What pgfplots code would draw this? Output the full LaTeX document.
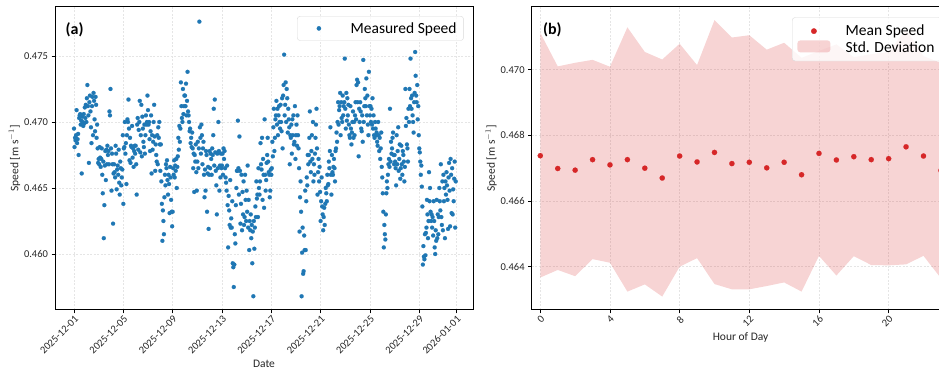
\documentclass[border=0pt]{standalone}
\usepackage{fontspec}
\setmainfont{Carlito}
\usepackage{pgfplots}
\pgfplotsset{compat=1.18}
\definecolor{tabblue}{HTML}{1F77B4}
\definecolor{tabred}{HTML}{D62728}
\pgfplotsset{
  common/.style={
    scale only axis, width=418pt, height=303pt,
    axis line style={line width=1pt},
    tick align=outside, tick pos=left, major tick length=3.5pt,
    tick style={black, line width=0.8pt},
    grid=major, major grid style={dash pattern=on 2pt off 1.5pt, black!10, line width=0.5pt},
    ticklabel style={font=\fontsize{10.5}{12}\selectfont, text=black!85},
    /pgf/number format/assume math mode=true,
    scaled y ticks=false,
    yticklabel style={/pgf/number format/fixed, /pgf/number format/fixed zerofill, /pgf/number format/precision=3},
    label style={font=\fontsize{11.5}{13}\selectfont, text=black!85},
    ylabel shift=-3pt,
    xticklabel style={rotate=45, anchor=north east, inner sep=1pt},
    legend cell align=left,
  }
}
\begin{document}
\begin{tikzpicture}
\path[use as bounding box] (0pt,0pt) rectangle (939pt,371pt);
% ---------------- (a) ----------------
\begin{axis}[common, at={(55pt,61pt)}, anchor=south west,
  xmin=-37, xmax=776.6, ymin=0.45576, ymax=0.47871,
  xtick={0,96,192,288,384,480,576,672,744},
  xticklabels={2025-12-01,2025-12-05,2025-12-09,2025-12-13,2025-12-17,2025-12-21,2025-12-25,2025-12-29,2026-01-01},
  ytick={0.460,0.465,0.470,0.475},
  xlabel={Date}, ylabel={Speed [m s$^{-1}$]},
  legend style={at={(0.978,0.970)}, anchor=north east, draw=black!15, rounded corners=3pt,
    fill=white, fill opacity=0.8, text opacity=1, draw opacity=1,
    font=\fontsize{15.5}{18}\selectfont, inner xsep=5pt, inner ysep=4pt},
]
\addplot[only marks, mark=*, mark size=2.05pt, color=tabblue, mark options={line width=0.1pt},
  legend image code/.code={\fill[opacity=0] (0pt,-1pt) rectangle (33pt,1pt); \fill[tabblue, opacity=1] (16.5pt,0pt) circle (2.05pt);}]
 table[row sep=\\] {
t y\\
0 0.4695\\1 0.4681\\2 0.4688\\3 0.4686\\4 0.4690\\5 0.4709\\6 0.4684\\7 0.4687\\8 0.4691\\9 0.4675\\10 0.4703\\11 0.4705\\12 0.4706\\13 0.4698\\14 0.4701\\15 0.4661\\16 0.4704\\17 0.4700\\18 0.4697\\19 0.4706\\20 0.4699\\21 0.4711\\22 0.4703\\23 0.4713\\
24 0.4700\\25 0.4718\\26 0.4728\\27 0.4712\\28 0.4705\\29 0.4669\\30 0.4715\\31 0.4720\\32 0.4708\\33 0.4696\\34 0.4684\\35 0.4712\\36 0.4719\\37 0.4690\\38 0.4722\\39 0.4716\\40 0.4702\\41 0.4693\\42 0.4719\\43 0.4713\\44 0.4688\\45 0.4698\\46 0.4680\\47 0.4669\\
48 0.4672\\49 0.4668\\50 0.4681\\51 0.4673\\52 0.4666\\53 0.4672\\54 0.4680\\55 0.4660\\56 0.4646\\57 0.4670\\58 0.4612\\59 0.4637\\60 0.4667\\61 0.4678\\62 0.4656\\63 0.4679\\64 0.4668\\65 0.4682\\66 0.4675\\67 0.4678\\68 0.4668\\69 0.4708\\70 0.4705\\71 0.4725\\
72 0.4680\\73 0.4648\\74 0.4676\\75 0.4668\\76 0.4623\\77 0.4661\\78 0.4668\\79 0.4662\\80 0.4658\\81 0.4682\\82 0.4676\\83 0.4649\\84 0.4664\\85 0.4667\\86 0.4660\\87 0.4679\\88 0.4654\\89 0.4645\\90 0.4670\\91 0.4665\\92 0.4652\\93 0.4658\\94 0.4664\\95 0.4690\\
96 0.4638\\97 0.4680\\98 0.4681\\99 0.4700\\100 0.4676\\101 0.4684\\102 0.4653\\103 0.4690\\104 0.4702\\105 0.4700\\106 0.4717\\107 0.4695\\108 0.4671\\109 0.4688\\110 0.4669\\111 0.4682\\112 0.4681\\113 0.4697\\114 0.4673\\115 0.4680\\116 0.4666\\117 0.4678\\118 0.4682\\119 0.4676\\
120 0.4682\\121 0.4668\\122 0.4645\\123 0.4698\\124 0.4703\\125 0.4679\\126 0.4694\\127 0.4700\\128 0.4716\\129 0.4677\\130 0.4690\\131 0.4713\\132 0.4674\\133 0.4704\\134 0.4695\\135 0.4685\\136 0.4681\\137 0.4698\\138 0.4676\\139 0.4690\\140 0.4705\\141 0.4698\\142 0.4700\\143 0.4720\\
144 0.4709\\145 0.4698\\146 0.4700\\147 0.4687\\148 0.4678\\149 0.4693\\150 0.4705\\151 0.4661\\152 0.4690\\153 0.4679\\154 0.4685\\155 0.4700\\156 0.4713\\157 0.4689\\158 0.4663\\159 0.4683\\160 0.4675\\161 0.4670\\162 0.4690\\163 0.4668\\164 0.4696\\165 0.4688\\166 0.4700\\167 0.4683\\
168 0.4663\\169 0.4683\\170 0.4655\\171 0.4638\\172 0.4610\\173 0.4633\\174 0.4625\\175 0.4615\\176 0.4643\\177 0.4660\\178 0.4652\\179 0.4668\\180 0.4665\\181 0.4671\\182 0.4656\\183 0.4645\\184 0.4660\\185 0.4653\\186 0.4631\\187 0.4666\\188 0.4658\\189 0.4641\\190 0.4632\\191 0.4621\\
192 0.4632\\193 0.4665\\194 0.4660\\195 0.4671\\196 0.4658\\197 0.4667\\198 0.4663\\199 0.4672\\200 0.4650\\201 0.4666\\202 0.4674\\203 0.4688\\204 0.4679\\205 0.4697\\206 0.4685\\207 0.4695\\208 0.4730\\209 0.4712\\210 0.4703\\211 0.4700\\212 0.4725\\213 0.4706\\214 0.4712\\215 0.4720\\
216 0.4720\\217 0.4712\\218 0.4729\\219 0.4705\\220 0.4716\\221 0.4738\\222 0.4708\\223 0.4705\\224 0.4700\\225 0.4693\\226 0.4695\\227 0.4684\\228 0.4688\\229 0.4681\\230 0.4692\\231 0.4680\\232 0.4665\\233 0.4676\\234 0.4647\\235 0.4675\\236 0.4670\\237 0.4683\\238 0.4662\\239 0.4648\\
240 0.4670\\241 0.4685\\242 0.4665\\243 0.4680\\244 0.4776\\245 0.4696\\246 0.4688\\247 0.4676\\248 0.4698\\249 0.4690\\250 0.4668\\251 0.4680\\252 0.4685\\253 0.4660\\254 0.4643\\255 0.4664\\256 0.4648\\257 0.4678\\258 0.4675\\259 0.4632\\260 0.4661\\261 0.4666\\262 0.4619\\263 0.4660\\
264 0.4678\\265 0.4665\\266 0.4676\\267 0.4672\\268 0.4660\\269 0.4680\\270 0.4675\\271 0.4690\\272 0.4710\\273 0.4667\\274 0.4717\\275 0.4677\\276 0.4663\\277 0.4652\\278 0.4630\\279 0.4676\\280 0.4665\\281 0.4700\\282 0.4678\\283 0.4648\\284 0.4667\\285 0.4658\\286 0.4676\\287 0.4665\\
288 0.4667\\289 0.4676\\290 0.4660\\291 0.4680\\292 0.4672\\293 0.4678\\294 0.4665\\295 0.4658\\296 0.4654\\297 0.4648\\298 0.4667\\299 0.4637\\300 0.4605\\301 0.4644\\302 0.4633\\303 0.4622\\304 0.4656\\305 0.4620\\306 0.4627\\307 0.4620\\308 0.4640\\309 0.4593\\310 0.4590\\311 0.4575\\
312 0.4592\\313 0.4615\\314 0.4608\\315 0.4637\\316 0.4650\\317 0.4663\\318 0.4663\\319 0.4701\\320 0.4665\\321 0.4645\\322 0.4689\\323 0.4663\\324 0.4623\\325 0.4638\\326 0.4660\\327 0.4618\\328 0.4647\\329 0.4630\\330 0.4655\\331 0.4622\\332 0.4628\\333 0.4660\\334 0.4641\\335 0.4625\\
336 0.4648\\337 0.4632\\338 0.4667\\339 0.4620\\340 0.4641\\341 0.4603\\342 0.4625\\343 0.4618\\344 0.4630\\345 0.4612\\346 0.4622\\347 0.4593\\348 0.4617\\349 0.4568\\350 0.4625\\351 0.4604\\352 0.4620\\353 0.4636\\354 0.4628\\355 0.4655\\356 0.4642\\357 0.4645\\358 0.4628\\359 0.4665\\
360 0.4650\\361 0.4645\\362 0.4655\\363 0.4684\\364 0.4668\\365 0.4664\\366 0.4688\\367 0.4641\\368 0.4672\\369 0.4660\\370 0.4635\\371 0.4702\\372 0.4660\\373 0.4648\\374 0.4656\\375 0.4669\\376 0.4675\\377 0.4688\\378 0.4670\\379 0.4662\\380 0.4660\\381 0.4643\\382 0.4648\\383 0.4664\\
384 0.4660\\385 0.4665\\386 0.4685\\387 0.4674\\388 0.4696\\389 0.4710\\390 0.4678\\391 0.4688\\392 0.4702\\393 0.4705\\394 0.4716\\395 0.4698\\396 0.4710\\397 0.4690\\398 0.4705\\399 0.4712\\400 0.4700\\401 0.4695\\402 0.4713\\403 0.4700\\404 0.4693\\405 0.4718\\406 0.4680\\407 0.4720\\
408 0.4728\\409 0.4751\\410 0.4705\\411 0.4713\\412 0.4730\\413 0.4700\\414 0.4725\\415 0.4718\\416 0.4692\\417 0.4710\\418 0.4702\\419 0.4696\\420 0.4668\\421 0.4690\\422 0.4688\\423 0.4698\\424 0.4676\\425 0.4702\\426 0.4690\\427 0.4705\\428 0.4683\\429 0.4685\\430 0.4712\\431 0.4672\\
432 0.4690\\433 0.4698\\434 0.4682\\435 0.4705\\436 0.4690\\437 0.4680\\438 0.4665\\439 0.4617\\440 0.4643\\441 0.4655\\442 0.4632\\443 0.4568\\444 0.4601\\445 0.4620\\446 0.4585\\447 0.4587\\448 0.4614\\449 0.4603\\450 0.4648\\451 0.4603\\452 0.4640\\453 0.4658\\454 0.4652\\455 0.4675\\
456 0.4668\\457 0.4675\\458 0.4688\\459 0.4708\\460 0.4670\\461 0.4662\\462 0.4678\\463 0.4690\\464 0.4672\\465 0.4700\\466 0.4655\\467 0.4668\\468 0.4660\\469 0.4676\\470 0.4688\\471 0.4698\\472 0.4710\\473 0.4680\\474 0.4645\\475 0.4662\\476 0.4672\\477 0.4655\\478 0.4666\\479 0.4647\\
480 0.4625\\481 0.4640\\482 0.4658\\483 0.4636\\484 0.4630\\485 0.4618\\486 0.4628\\487 0.4635\\488 0.4622\\489 0.4638\\490 0.4650\\491 0.4646\\492 0.4640\\493 0.4660\\494 0.4652\\495 0.4653\\496 0.4670\\497 0.4665\\498 0.4678\\499 0.4696\\500 0.4660\\501 0.4645\\502 0.4675\\503 0.4662\\
504 0.4660\\505 0.4666\\506 0.4672\\507 0.4665\\508 0.4655\\509 0.4678\\510 0.4680\\511 0.4692\\512 0.4685\\513 0.4700\\514 0.4715\\515 0.4698\\516 0.4709\\517 0.4712\\518 0.4722\\519 0.4690\\520 0.4715\\521 0.4703\\522 0.4700\\523 0.4720\\524 0.4705\\525 0.4712\\526 0.4715\\527 0.4748\\
528 0.4710\\529 0.4695\\530 0.4722\\531 0.4701\\532 0.4718\\533 0.4705\\534 0.4713\\535 0.4698\\536 0.4690\\537 0.4688\\538 0.4712\\539 0.4695\\540 0.4683\\541 0.4692\\542 0.4700\\543 0.4708\\544 0.4688\\545 0.4700\\546 0.4690\\547 0.4705\\548 0.4715\\549 0.4702\\550 0.4728\\551 0.4732\\
552 0.4715\\553 0.4730\\554 0.4674\\555 0.4710\\556 0.4700\\557 0.4715\\558 0.4708\\559 0.4695\\560 0.4693\\561 0.4705\\562 0.4685\\563 0.4747\\564 0.4700\\565 0.4712\\566 0.4725\\567 0.4718\\568 0.4712\\569 0.4733\\570 0.4705\\571 0.4720\\572 0.4698\\573 0.4690\\574 0.4738\\575 0.4712\\
576 0.4705\\577 0.4712\\578 0.4700\\579 0.4710\\580 0.4698\\581 0.4718\\582 0.4695\\583 0.4705\\584 0.4690\\585 0.4688\\586 0.4700\\587 0.4695\\588 0.4690\\589 0.4692\\590 0.4685\\591 0.4682\\592 0.4700\\593 0.4690\\594 0.4678\\595 0.4688\\596 0.4672\\597 0.4680\\598 0.4692\\599 0.4666\\
600 0.4658\\601 0.4646\\602 0.4632\\603 0.4605\\604 0.4622\\605 0.4615\\606 0.4611\\607 0.4630\\608 0.4646\\609 0.4655\\610 0.4650\\611 0.4660\\612 0.4668\\613 0.4672\\614 0.4666\\615 0.4710\\616 0.4670\\617 0.4685\\618 0.4676\\619 0.4680\\620 0.4688\\621 0.4692\\622 0.4675\\623 0.4668\\
624 0.4675\\625 0.4670\\626 0.4665\\627 0.4652\\628 0.4690\\629 0.4668\\630 0.4678\\631 0.4696\\632 0.4663\\633 0.4672\\634 0.4683\\635 0.4657\\636 0.4665\\637 0.4682\\638 0.4668\\639 0.4660\\640 0.4678\\641 0.4675\\642 0.4670\\643 0.4655\\644 0.4666\\645 0.4725\\646 0.4697\\647 0.4703\\
648 0.4683\\649 0.4680\\650 0.4670\\651 0.4710\\652 0.4700\\653 0.4725\\654 0.4712\\655 0.4748\\656 0.4718\\657 0.4710\\658 0.4720\\659 0.4705\\660 0.4700\\661 0.4692\\662 0.4715\\663 0.4722\\664 0.4753\\665 0.4735\\666 0.4720\\667 0.4715\\668 0.4728\\669 0.4702\\670 0.4712\\671 0.4690\\
672 0.4680\\673 0.4677\\674 0.4670\\675 0.4660\\676 0.4667\\677 0.4651\\678 0.4636\\679 0.4592\\680 0.4606\\681 0.4598\\682 0.4596\\683 0.4615\\684 0.4599\\685 0.4616\\686 0.4620\\687 0.4641\\688 0.4630\\689 0.4612\\690 0.4625\\691 0.4662\\692 0.4640\\693 0.4650\\694 0.4632\\695 0.4625\\
696 0.4630\\697 0.4620\\698 0.4628\\699 0.4614\\700 0.4640\\701 0.4625\\702 0.4605\\703 0.4600\\704 0.4618\\705 0.4610\\706 0.4641\\707 0.4612\\708 0.4630\\709 0.4615\\710 0.4628\\711 0.4650\\712 0.4640\\713 0.4633\\714 0.4668\\715 0.4628\\716 0.4622\\717 0.4655\\718 0.4618\\719 0.4660\\
720 0.4640\\721 0.4650\\722 0.4612\\723 0.4655\\724 0.4645\\725 0.4662\\726 0.4652\\727 0.4641\\728 0.4619\\729 0.4658\\730 0.4669\\731 0.4648\\732 0.4621\\733 0.4672\\734 0.4660\\735 0.4631\\736 0.4665\\737 0.4630\\738 0.4649\\739 0.4640\\740 0.4657\\741 0.4670\\742 0.4620\\743 0.4655\\
};
\addlegendentry{\hspace{13pt}Measured Speed}
\node[anchor=west, font=\bfseries\fontsize{16}{18}\selectfont] at (rel axis cs:0.017,0.924) {(a)};
\end{axis}
% ---------------- (b) ----------------
\begin{axis}[common, at={(531.6pt,61pt)}, anchor=south west,
  xmin=-0.5, xmax=23.5, ymin=0.46268, ymax=0.47191,
  xtick={0,4,8,12,16,20},
  ytick={0.464,0.466,0.468,0.470},
  xlabel={Hour of Day}, ylabel={Speed [m s$^{-1}$]},
  reverse legend,
  legend style={at={(0.623,0.966)}, anchor=north west, draw=black!15, rounded corners=3pt,
    fill=white, fill opacity=0.8, text opacity=1, draw opacity=1,
    font=\fontsize{15.5}{18}\selectfont, inner xsep=5pt, inner ysep=5.5pt, row sep=0pt},
]
\addplot[draw=none, fill=tabred, fill opacity=0.2,
  legend image code/.code={\fill[tabred, fill opacity=0.2] (0pt,-5pt) rectangle (33pt,7pt);}]
 coordinates {
 (0,0.47112) (1,0.47010) (2,0.47021) (3,0.47030) (4,0.47009) (5,0.47129) (6,0.47054) (7,0.47031)
 (8,0.47079) (9,0.47014) (10,0.47151) (11,0.47098) (12,0.47105) (13,0.47061) (14,0.47082) (15,0.47036)
 (16,0.47057) (17,0.47077) (18,0.47038) (19,0.47047) (20,0.47054) (21,0.47123) (22,0.47041) (23,0.47021)
 (23,0.46365) (22,0.46433) (21,0.46407) (20,0.46404) (19,0.46405) (18,0.46432) (17,0.46373) (16,0.46433)
 (15,0.46324) (14,0.46352) (13,0.46341) (12,0.46331) (11,0.46331) (10,0.46347) (9,0.46426) (8,0.46400)
 (7,0.46309) (6,0.46346) (5,0.46324) (4,0.46412) (3,0.46423) (2,0.46371) (1,0.46390) (0,0.46367)
 };
\addlegendentry{\hspace{13pt}Std. Deviation}
\addplot[only marks, mark=*, mark size=2.65pt, color=tabred, mark options={line width=0.1pt},
  legend image code/.code={\fill[opacity=0] (0pt,-1pt) rectangle (33pt,1pt); \fill[tabred, opacity=1] (16.5pt,0pt) circle (2.65pt);}]
 coordinates {
 (0,0.46738) (1,0.46699) (2,0.46694) (3,0.46726) (4,0.46710) (5,0.46726) (6,0.46700) (7,0.46670)
 (8,0.46737) (9,0.46719) (10,0.46748) (11,0.46714) (12,0.46718) (13,0.46701) (14,0.46718) (15,0.46680)
 (16,0.46745) (17,0.46725) (18,0.46735) (19,0.46726) (20,0.46729) (21,0.46765) (22,0.46737) (23,0.46693)
 };
\addlegendentry{\hspace{13pt}Mean Speed}
\node[anchor=west, font=\bfseries\fontsize{16}{18}\selectfont] at (rel axis cs:0.019,0.924) {(b)};
\end{axis}
\end{tikzpicture}
\end{document}
